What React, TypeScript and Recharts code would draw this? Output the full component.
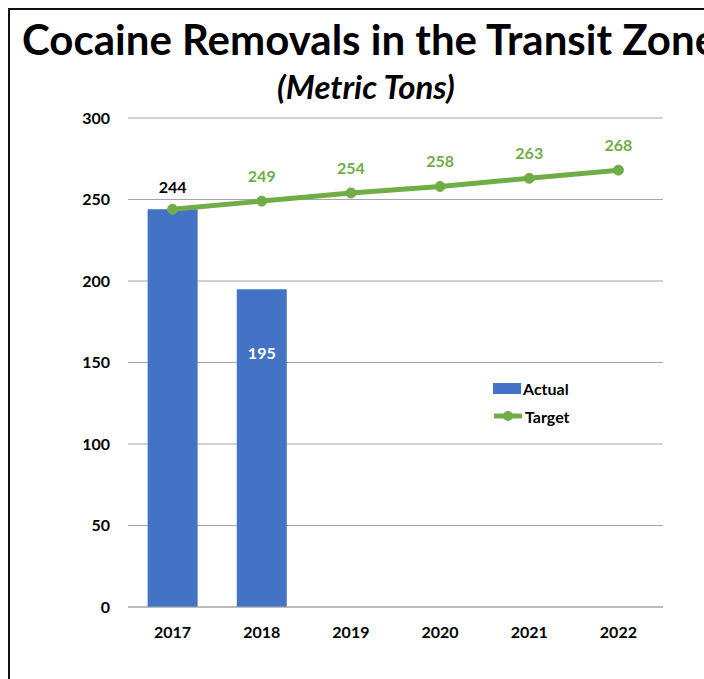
import {
  Bar,
  CartesianGrid,
  ComposedChart,
  LabelList,
  Line,
  XAxis,
  YAxis,
} from "recharts";

const years = ["2017", "2018", "2019", "2020", "2021", "2022"];
const actual: (number | null)[] = [244, 195, null, null, null, null];
const target = [244, 249, 254, 258, 263, 268];
const yTicks = [0, 50, 100, 150, 200, 250, 300];

const data = years.map((year, i) => ({
  year,
  actual: actual[i],
  target: target[i],
}));

const FONT = "Lato, 'Open Sans', sans-serif";
const BLUE = "#4472C4";
const GREEN = "#70AD47";

// first bar label sits above the bar, the second one inside it in white
function ActualLabel(props: any) {
  const { x, y, width, value, index } = props;
  if (value == null) return null;
  const above = index === 0;
  return (
    <text
      x={x + width / 2}
      y={above ? y - 16 : y + 70}
      textAnchor="middle"
      fill={above ? "#000" : "#fff"}
      fontSize={16}
      fontWeight={700}
      fontFamily={FONT}
    >
      {value}
    </text>
  );
}

function TargetLabel(props: any) {
  const { x, y, value, index } = props;
  if (index === 0) return null;
  return (
    <text
      x={x}
      y={y - 19}
      textAnchor="middle"
      fill={GREEN}
      fontSize={16}
      fontWeight={700}
      fontFamily={FONT}
    >
      {value}
    </text>
  );
}

function ChartLegend() {
  const row = { display: "flex", alignItems: "center", height: 28 } as const;
  const label = {
    fontFamily: FONT,
    fontWeight: 700,
    fontSize: 16,
    color: "#000",
    marginLeft: 2,
  };
  return (
    <div style={{ position: "absolute", left: 483, top: 364 }}>
      <div style={row}>
        <div style={{ width: 28, height: 11, background: BLUE }} />
        <span style={label}>Actual</span>
      </div>
      <div style={row}>
        <svg width={30} height={12}>
          <line x1={1} y1={6} x2={29} y2={6} stroke={GREEN} strokeWidth={5} />
          <circle cx={15} cy={6} r={5} fill={GREEN} />
        </svg>
        <span style={label}>Target</span>
      </div>
    </div>
  );
}

export default function App() {
  return (
    <div
      style={{
        position: "fixed",
        left: 8,
        top: 8,
        width: 694,
        height: 669,
        borderLeft: "2px solid #111",
        borderTop: "2px solid #111",
        overflow: "hidden",
        background: "#fff",
      }}
    >
      <div
        style={{
          position: "absolute",
          left: 12,
          top: 4,
          whiteSpace: "nowrap",
          fontFamily: FONT,
          fontWeight: 700,
          fontSize: 42,
          color: "#000",
        }}
      >
        Cocaine Removals in the Transit Zone
      </div>
      <div
        style={{
          position: "absolute",
          left: 0,
          width: 712,
          top: 56,
          textAlign: "center",
          fontFamily: FONT,
          fontWeight: 700,
          fontStyle: "italic",
          fontSize: 33,
          color: "#000",
        }}
      >
        (Metric Tons)
      </div>
      <ComposedChart
        width={694}
        height={661}
        data={data}
        margin={{ top: 108, right: 41, left: 0, bottom: 34 }}
        barCategoryGap="22%"
      >
        <CartesianGrid vertical={false} stroke="#a6a6a6" />
        <XAxis
          dataKey="year"
          height={30}
          tickLine={false}
          axisLine={{ stroke: "#a6a6a6" }}
          tickMargin={14}
          tick={{ fill: "#000", fontSize: 16, fontWeight: 700, fontFamily: FONT }}
        />
        <YAxis
          width={118}
          domain={[0, 300]}
          ticks={yTicks}
          tickLine={false}
          axisLine={false}
          tickMargin={12}
          tick={{ fill: "#000", fontSize: 16, fontWeight: 700, fontFamily: FONT }}
        />
        <Bar dataKey="actual" name="Actual" fill={BLUE} isAnimationActive={false}>
          <LabelList dataKey="actual" content={ActualLabel} />
        </Bar>
        <Line
          dataKey="target"
          name="Target"
          stroke={GREEN}
          strokeWidth={5}
          dot={{ r: 5, fill: GREEN, stroke: GREEN, strokeWidth: 1 }}
          isAnimationActive={false}
        >
          <LabelList dataKey="target" content={TargetLabel} />
        </Line>
      </ComposedChart>
      <ChartLegend />
    </div>
  );
}
